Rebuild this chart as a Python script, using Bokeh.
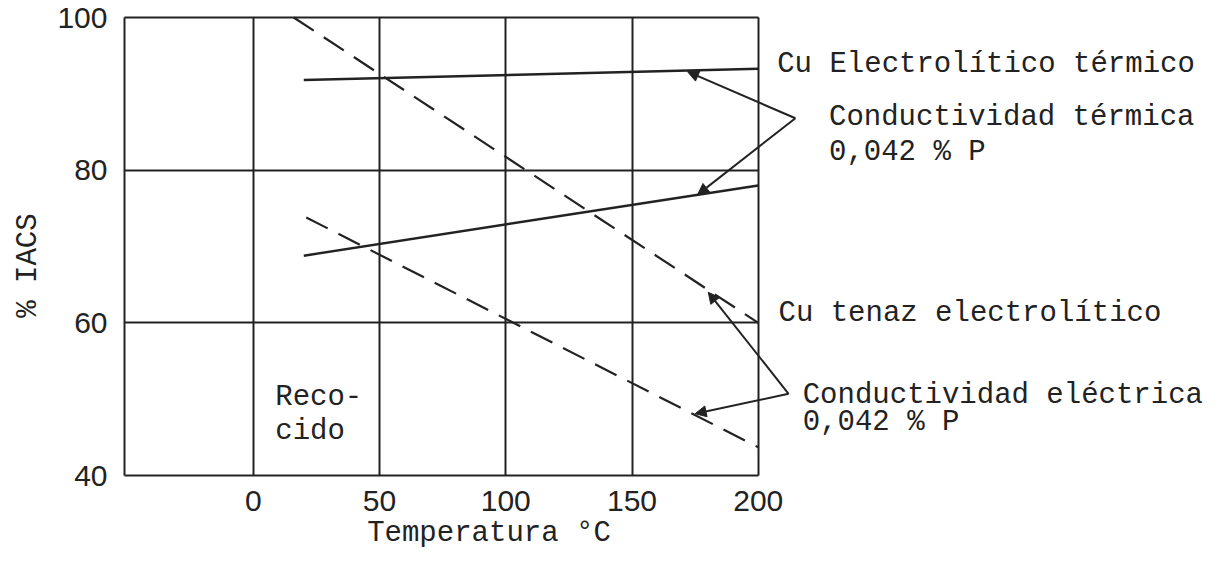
from math import pi
from bokeh.plotting import figure
from bokeh.models import Label, Arrow, NormalHead, FixedTicker, Range1d
from bokeh.embed import file_html
from bokeh.resources import INLINE

# ---- data ----
temp_cu_term = [20, 200]          # Cu Electrolítico térmico (solid)
iacs_cu_term = [91.8, 93.3]
temp_p_term = [20, 200]           # Conductividad térmica 0,042 % P (solid)
iacs_p_term = [68.8, 78.0]
temp_cu_elec = [16, 200]          # Cu tenaz electrolítico (dashed)
iacs_cu_elec = [100.0, 60.0]
temp_p_elec = [21, 200]           # Conductividad eléctrica 0,042 % P (dashed)
iacs_p_elec = [73.8, 43.7]
x_ticks = [0, 50, 100, 150, 200]
y_ticks = [40, 60, 80, 100]

# ---- layout constants ----
X_LEFT, X_RIGHT = -51, 200        # box limits (data)
Y_BOTTOM, Y_TOP = 40, 100
W, H = 1207, 556
PX_X, PX_Y = 124, 17              # pixel of (X_LEFT, Y_TOP)
SX = 505 / 200                    # px per degree
SY = 458 / 60                     # px per % IACS

x0 = X_LEFT - PX_X / SX
x1 = X_LEFT + (W - PX_X) / SX
y1 = Y_TOP + PX_Y / SY
y0 = Y_TOP - (H - PX_Y) / SY

INK = "#222222"
MONO = "Liberation Mono"
FS = "29px"

p = figure(width=W, height=H, x_range=Range1d(x0, x1), y_range=Range1d(y0, y1),
           output_backend="svg", toolbar_location=None, title=None,
           min_border_left=0, min_border_right=0, min_border_top=0, min_border_bottom=0)
p.background_fill_color = "white"
p.border_fill_color = "white"
p.outline_line_color = None

# box + grid lines, limited to the box
p.xgrid.ticker = FixedTicker(ticks=[X_LEFT] + x_ticks)
p.xgrid.cross_bounds = (Y_BOTTOM, Y_TOP)
p.ygrid.ticker = FixedTicker(ticks=y_ticks)
p.ygrid.cross_bounds = (X_LEFT, X_RIGHT)
for g in (p.xgrid, p.ygrid):
    g.grid_line_color = INK
    g.grid_line_width = 2
    g.grid_line_alpha = 1.0

p.xaxis.fixed_location = Y_BOTTOM
p.yaxis.fixed_location = X_LEFT
for ax, ticks in ((p.xaxis, x_ticks), (p.yaxis, y_ticks)):
    ax.ticker = FixedTicker(ticks=ticks)
    ax.axis_line_color = None
    ax.major_tick_line_color = None
    ax.minor_tick_line_color = None
    ax.major_label_text_font = "Liberation Sans"
    ax.major_label_text_font_size = "30px"
    ax.major_label_text_color = INK
p.xaxis.major_label_standoff = 9
p.yaxis.major_label_standoff = 11

# curves
p.line(temp_cu_term, iacs_cu_term, line_color=INK, line_width=2.5)
p.line(temp_p_term, iacs_p_term, line_color=INK, line_width=2.5)
p.line(temp_cu_elec, iacs_cu_elec, line_color=INK, line_width=2.2, line_dash="24 12")
p.line(temp_p_elec, iacs_p_elec, line_color=INK, line_width=2.2, line_dash="24 12")

def lab(x, y, text, **kw):
    opts = dict(text_font=MONO, text_font_size=FS, text_color=INK,
                text_align="left", text_baseline="middle")
    opts.update(kw)
    p.add_layout(Label(x=x, y=y, text=text, **opts))

lab(207.5, 93.8, "Cu Electrolítico térmico")
lab(228.0, 86.9, "Conductividad térmica")
lab(228.0, 82.3, "0,042 % P")
lab(208.0, 61.2, "Cu tenaz electrolítico")
lab(217.6, 50.5, "Conductividad eléctrica")
lab(217.6, 46.9, "0,042 % P")
lab(8.7, 50.2, "Reco-")
lab(8.7, 45.8, "cido")
lab(45.1, 32.4, "Temperatura °C")
lab(-89.1, 67.5, "% IACS", angle=pi / 2, text_align="center")

# leader arrows
def arrow(xa, ya, xb, yb):
    p.add_layout(Arrow(end=NormalHead(size=11, fill_color=INK, line_color=INK, line_width=1),
                       x_start=xa, y_start=ya, x_end=xb, y_end=yb,
                       line_color=INK, line_width=2))

arrow(214.7, 86.8, 172.0, 92.9)
arrow(214.7, 86.8, 176.0, 76.8)
arrow(212.0, 50.7, 180.2, 64.0)
arrow(212.0, 50.7, 175.0, 48.1)

open("out.html", "w").write(file_html(p, INLINE))
